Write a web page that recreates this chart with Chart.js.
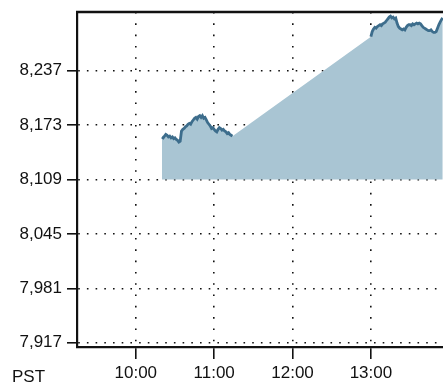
<!DOCTYPE html>
<html>
<head>
<meta charset="utf-8">
<script src="https://cdn.jsdelivr.net/npm/chart.js@4/dist/chart.umd.min.js"></script>
<style>
html,body{margin:0;padding:0;background:#fff;overflow:hidden;}
canvas{display:block;}
</style>
</head>
<body>
<canvas id="c" width="443" height="386"></canvas>
<script>
// ---- data ----
const times = [
 "10:20","10:21","10:22","10:23","10:24","10:25","10:26","10:27","10:28","10:29",
 "10:30","10:31","10:32","10:33","10:34","10:35","10:36","10:37","10:38","10:39",
 "10:40","10:41","10:42","10:43","10:44","10:45","10:46","10:47","10:48","10:49",
 "10:50","10:51","10:52","10:53","10:54","10:55","10:56","10:57","10:58","10:59",
 "11:00","11:01","11:02","11:03","11:04","11:05","11:06","11:07","11:08","11:09",
 "11:10","11:11","11:12","11:13","11:14",
 "13:00","13:01","13:02","13:03","13:04","13:05","13:06","13:07","13:08","13:09",
 "13:10","13:11","13:12","13:13","13:14","13:15","13:16","13:17","13:18","13:19",
 "13:20","13:21","13:22","13:23","13:24","13:25","13:26","13:27","13:28","13:29",
 "13:30","13:31","13:32","13:33","13:34","13:35","13:36","13:37","13:38","13:39",
 "13:40","13:41","13:42","13:43","13:44","13:45","13:46","13:47","13:48","13:49",
 "13:50","13:51","13:52","13:53","13:54","13:55"
];
const values = [
 8159,8158,8160,8162,8161,8159,8160,8158,8159,8157,
 8158,8156,8155,8153,8154,8166,8168,8169,8171,8172,
 8174,8175,8174,8177,8179,8181,8182,8180,8183,8184,
 8182,8184,8181,8182,8179,8176,8174,8172,8169,8170,
 8168,8166,8165,8168,8170,8169,8167,8168,8166,8165,
 8163,8164,8162,8161,8160,
 8277,8283,8286,8288,8287,8289,8290,8291,8290,8292,
 8293,8294,8296,8298,8300,8301,8299,8300,8298,8299,
 8293,8289,8287,8286,8285,8286,8285,8288,8290,8291,
 8291,8290,8292,8291,8292,8293,8292,8293,8292,8290,
 8288,8287,8286,8285,8284,8284,8285,8283,8282,8282,
 8283,8287,8291,8294,8297,8299
];
const yTicks = [7917, 7981, 8045, 8109, 8173, 8237];
const xTickLabels = ["10:00", "11:00", "12:00", "13:00"];
const xRange = ["9:15", "13:55"];
const yRange = [7912, 8306];
const fillBase = 8109;
const axisNote = "PST";

// ---- helpers ----
const toMin = s => { const [h, m] = s.split(":").map(Number); return h * 60 + m; };
const fmt = v => { const h = Math.floor(v / 60), m = Math.round(v % 60); return h + ":" + String(m).padStart(2, "0"); };
const pts = times.map((t, i) => ({ x: toMin(t), y: values[i] }));

const FONT = { family: "'Liberation Sans', Arial, sans-serif", size: 17 };
const LINE = "#3d6d8c";
const FILL = "#a9c5d3";

const frame = {
  id: "frame",
  afterDraw(chart) {
    const { ctx, chartArea: a } = chart;
    ctx.save();
    ctx.strokeStyle = "#111";
    ctx.lineWidth = 2.5;
    ctx.beginPath();
    ctx.moveTo(a.left - 1, a.top);
    ctx.lineTo(a.right + 2, a.top);
    ctx.stroke();
    ctx.fillStyle = "#111";
    ctx.font = "17px 'Liberation Sans', Arial, sans-serif";
    ctx.textBaseline = "alphabetic";
    ctx.textAlign = "left";
    ctx.fillText(axisNote, 12, 382);
    ctx.restore();
  }
};

new Chart(document.getElementById("c"), {
  type: "line",
  data: {
    datasets: [{
      // price line (not drawn across the session gap) - on top
      data: pts,
      order: 0,
      borderColor: LINE,
      borderWidth: 2.8,
      fill: false,
      pointRadius: 0,
      tension: 0,
      segment: {
        borderColor: c => (c.p1.parsed.x - c.p0.parsed.x > 5 ? "rgba(0,0,0,0)" : LINE)
      }
    }, {
      // area
      data: pts,
      order: 1,
      borderWidth: 0,
      borderColor: "rgba(0,0,0,0)",
      backgroundColor: FILL,
      fill: { value: fillBase },
      pointRadius: 0,
      tension: 0
    }]
  },
  options: {
    responsive: false,
    animation: false,
    devicePixelRatio: 1,
    layout: { padding: { left: 0, right: 0, top: 12, bottom: 0 } },
    plugins: { legend: { display: false }, tooltip: { enabled: false } },
    scales: {
      x: {
        type: "linear",
        min: toMin(xRange[0]),
        max: toMin(xRange[1]) + 0.2,
        afterBuildTicks: s => { s.ticks = xTickLabels.map(t => ({ value: toMin(t) })); },
        afterFit: s => { s.height = 39; s.paddingLeft = 0; s.paddingRight = 0; },
        ticks: { font: FONT, color: "#111", padding: 4, maxRotation: 0, autoSkip: false, callback: v => fmt(v) },
        grid: { color: "#111", lineWidth: 1.6, tickLength: 12, tickWidth: 1.6, tickColor: "#111" },
        border: { display: true, color: "#111", width: 2.2, dash: [1.6, 9.7] }
      },
      y: {
        min: yRange[0],
        max: yRange[1],
        afterBuildTicks: s => { s.ticks = yTicks.map(v => ({ value: v })); },
        afterFit: s => { s.width = 77; s.paddingTop = 0; s.paddingBottom = 0; },
        ticks: { font: FONT, color: "#111", padding: 5, autoSkip: false, callback: v => v.toLocaleString("en-US") },
        grid: { color: "#111", lineWidth: 1.6, tickLength: 10, tickWidth: 1.6, tickColor: "#111" },
        border: { display: true, color: "#111", width: 2.2, dash: [1.6, 7.1] }
      }
    }
  },
  plugins: [frame]
});
</script>
</body>
</html>
